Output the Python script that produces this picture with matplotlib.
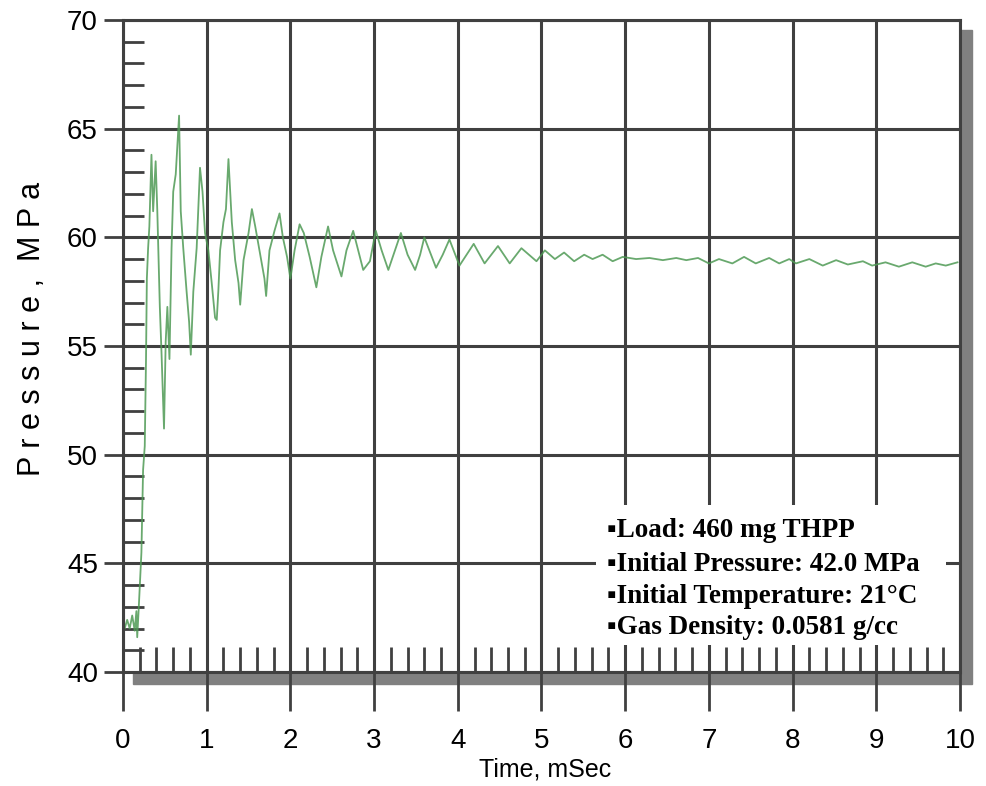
import matplotlib
matplotlib.use('Agg')
import matplotlib.pyplot as plt
from matplotlib.patches import Rectangle
from matplotlib.ticker import MultipleLocator

# pressure trace (time in ms, pressure in MPa)
time_ms = [0.02, 0.05, 0.08, 0.11, 0.14, 0.16, 0.17, 0.19, 0.22, 0.24,
           0.26, 0.275, 0.285, 0.30, 0.315, 0.34, 0.36, 0.39, 0.41, 0.44,
           0.46, 0.49, 0.51, 0.53, 0.555, 0.58, 0.60, 0.63, 0.67, 0.69,
           0.72, 0.76, 0.79, 0.81, 0.84, 0.88, 0.92, 0.95, 0.98, 1.02,
           1.06, 1.10, 1.12, 1.14, 1.16, 1.20, 1.23, 1.26, 1.30, 1.34,
           1.38, 1.40, 1.44, 1.50, 1.54, 1.58, 1.63, 1.69, 1.71, 1.75,
           1.81, 1.87, 1.91, 1.96, 2.00, 2.05, 2.11, 2.16, 2.23, 2.31,
           2.37, 2.45, 2.51, 2.61, 2.67, 2.75, 2.81, 2.87, 2.95, 3.02,
           3.09, 3.17, 3.25, 3.32, 3.40, 3.49, 3.55, 3.60, 3.68, 3.74,
           3.82, 3.90, 4.02, 4.19, 4.32, 4.48, 4.62, 4.76, 4.94, 5.04,
           5.16, 5.27, 5.39, 5.51, 5.61, 5.73, 5.85, 5.97, 6.13, 6.29,
           6.45, 6.61, 6.73, 6.87, 7.00, 7.12, 7.28, 7.42, 7.56, 7.72,
           7.84, 7.96, 8.04, 8.20, 8.36, 8.52, 8.66, 8.84, 8.95, 9.11,
           9.27, 9.43, 9.59, 9.71, 9.83, 9.97]
pressure = [42.0, 42.4, 42.0, 42.6, 41.9, 42.8, 41.6, 43.1, 45.5, 49.3,
            50.4, 54.4, 58.1, 59.5, 60.5, 63.8, 61.2, 63.5, 61.2, 56.8,
            54.7, 51.2, 55.2, 56.8, 54.4, 59.5, 62.1, 62.9, 65.6, 61.2,
            59.5, 57.5, 56.1, 54.6, 57.5, 59.5, 63.2, 62.1, 60.2, 59.4,
            57.9, 56.3, 56.2, 57.6, 59.4, 60.7, 61.3, 63.6, 60.7, 58.95,
            57.9, 56.9, 58.95, 60.2, 61.3, 60.5, 59.4, 58.1, 57.3, 59.4,
            60.3, 61.1, 60.0, 59.1, 58.1, 59.4, 60.6, 60.2, 59.1, 57.7,
            59.1, 60.5, 59.4, 58.2, 59.4, 60.3, 59.4, 58.5, 58.9, 60.3,
            59.4, 58.5, 59.4, 60.2, 59.2, 58.5, 59.2, 60.0, 59.2, 58.6,
            59.2, 59.9, 58.7, 59.7, 58.8, 59.6, 58.8, 59.5, 58.9, 59.4,
            59.0, 59.3, 58.9, 59.2, 59.0, 59.2, 58.9, 59.1, 59.0, 59.05,
            58.95, 59.05, 58.95, 59.05, 58.8, 59.0, 58.8, 59.1, 58.8, 59.05,
            58.8, 59.0, 58.8, 59.0, 58.7, 58.95, 58.75, 58.9, 58.7, 58.85,
            58.65, 58.85, 58.65, 58.8, 58.7, 58.85]

x_ticks = [0, 1, 2, 3, 4, 5, 6, 7, 8, 9, 10]
y_ticks = [40, 45, 50, 55, 60, 65, 70]

notes = ['Load: 460 mg THPP',
         'Initial Pressure: 42.0 MPa',
         'Initial Temperature: 21\u00b0C',
         'Gas Density: 0.0581 g/cc']

axis_col = '#404040'

fig = plt.figure(figsize=(9.87, 7.86), dpi=100)
ax = fig.add_axes([123 / 987, 1 - 672 / 786, 837 / 987, 652 / 786])

# drop shadow behind the plot frame
fig.add_artist(Rectangle((133 / 987, 1 - 684 / 786), 839 / 987, 654 / 786,
                         transform=fig.transFigure, color='#808080', zorder=-1))

ax.plot(time_ms, pressure, color='#4f9a55', lw=1.3, alpha=0.85, zorder=2)

ax.set_xlim(0, 10)
ax.set_ylim(40, 70)
ax.set_xticks(x_ticks)
ax.set_yticks(y_ticks)
ax.xaxis.set_minor_locator(MultipleLocator(0.2))
ax.yaxis.set_minor_locator(MultipleLocator(1))
ax.set_axisbelow(True)
ax.grid(which='major', color=axis_col, lw=2.2)

for s in ax.spines.values():
    s.set_color(axis_col)
    s.set_linewidth(2.2)

ax.tick_params(axis='x', which='major', direction='out', length=28, width=2,
               color=axis_col, pad=12, labelsize=20)
ax.tick_params(axis='y', which='major', direction='out', length=14, width=2,
               color=axis_col, pad=4, labelsize=20)
ax.tick_params(axis='x', which='minor', direction='in', length=18, width=2,
               color=axis_col)
ax.tick_params(axis='y', which='minor', direction='in', length=15, width=2,
               color=axis_col)
for lab in ax.get_xticklabels() + ax.get_yticklabels():
    lab.set_family('Liberation Sans')

# white box for the test conditions
ax.add_patch(Rectangle((5.65, 41.25), 4.18, 6.45, facecolor='white',
                       edgecolor='none', zorder=1.5))
note_y = [46.21, 44.65, 43.18, 41.75]
for txt, yy in zip(notes, note_y):
    ax.text(5.78, yy, '\u25aa' + txt, fontsize=19.5, fontweight='bold',
            family=['Liberation Serif', 'DejaVu Sans'], va='baseline',
            zorder=3)

fig.text(32 / 987, 1 - 329 / 786, 'P r e s s u r e ,  M P a', rotation=90,
         ha='center', va='center', fontsize=22, family='Liberation Sans')
fig.text(545 / 987, 1 - 770 / 786, 'Time, mSec', ha='center', va='center',
         fontsize=18, family='Liberation Sans')

fig.savefig('out.png', dpi=100)
